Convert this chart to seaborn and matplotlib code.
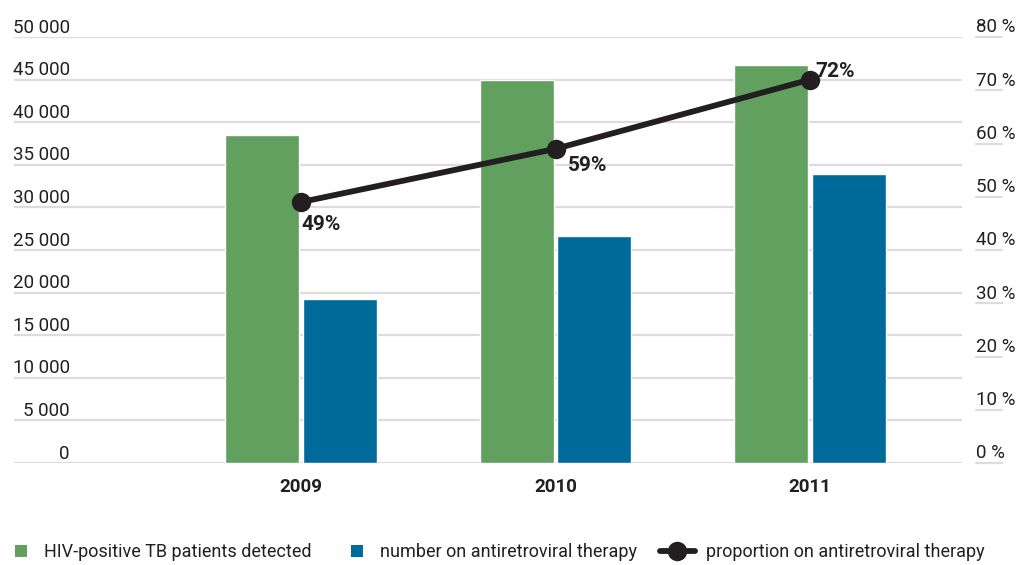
import numpy as np
import pandas as pd
import matplotlib
matplotlib.use("Agg")
import matplotlib.pyplot as plt
import matplotlib.transforms as mtransforms
from matplotlib.patches import Patch, Rectangle
from matplotlib.lines import Line2D
from matplotlib.legend_handler import HandlerPatch
import seaborn as sns

years = ["2009", "2010", "2011"]
detected = [38500, 45000, 46700]
on_art = [19200, 26600, 33900]
proportion = [49, 59, 72]
left_ticks = [0, 5000, 10000, 15000, 20000, 25000, 30000, 35000, 40000, 45000, 50000]
right_ticks = [0, 10, 20, 30, 40, 50, 60, 70, 80]
series_names = ["HIV-positive TB patients detected", "number on antiretroviral therapy"]
line_name = "proportion on antiretroviral therapy"

GREEN = "#62a060"
BLUE = "#006a9a"
DARK = "#231f20"
GRID = "#dcdcdc"
TXT = "#231f20"

sns.set_theme(style="white")
plt.rcParams["font.family"] = ["Roboto", "DejaVu Sans"]

df = pd.DataFrame({
    "year": years * 2,
    "series": [series_names[0]] * 3 + [series_names[1]] * 3,
    "value": detected + on_art,
})

fig = plt.figure(figsize=(10.21, 5.65), dpi=100)
W, H = 1021, 565
ax = fig.add_axes([14 / W, (H - 463) / H, (962 - 14) / W, (463 - 37) / H])

sns.barplot(data=df, x="year", y="value", hue="series", order=years,
            hue_order=series_names, palette=[GREEN, BLUE], width=0.61,
            gap=0.045, saturation=1, legend=False, ax=ax, zorder=2)

ax.set_xlim(-1.128, 2.597)
ax.set_ylim(0, 50000)
ax.set_yticks(left_ticks)
ax.yaxis.grid(True, color=GRID, linewidth=1.6, zorder=0)
ax.set_axisbelow(True)
for s in ax.spines.values():
    s.set_visible(False)
ax.set_xlabel("")
ax.set_ylabel("")
ax.tick_params(axis="both", length=0)
ax.set_yticklabels([])
ax.set_xticks(range(len(years)))
ax.set_xticklabels(years, fontsize=13.5, fontweight="bold", color=TXT)
ax.tick_params(axis="x", pad=11)

# left value labels sit above their gridlines inside the plot area
trl = mtransforms.blended_transform_factory(ax.transAxes, ax.transData)
for v in left_ticks:
    lab = f"{v:,}".replace(",", " ")
    ax.text(0.059, v + 50, lab, transform=trl, ha="right", va="bottom",
            fontsize=13.5, color=TXT)

# right axis for the proportion line
ax2 = ax.twinx()
ax2.set_ylim(0, 80)
xs = np.arange(len(years))
sns.lineplot(x=xs, y=proportion, ax=ax2, color=DARK, linewidth=4.2,
             marker="o", markersize=14, markeredgewidth=0, zorder=5)
ax2.set_yticks(right_ticks)
ax2.set_yticklabels([])
ax2.tick_params(axis="y", length=0)
for s in ax2.spines.values():
    s.set_visible(False)
ax2.set_ylabel("")

tr2 = mtransforms.blended_transform_factory(ax2.transAxes, ax2.transData)
for v in right_ticks:
    ax2.add_line(Line2D([1.0148, 1.0422], [v, v], transform=tr2, color=GRID,
                        linewidth=1.6, clip_on=False))
    ax2.text(1.0148, v + 0.1, f"{v} %", transform=tr2, ha="left", va="bottom",
             fontsize=13.5, color=TXT, clip_on=False)

# value labels on the proportion points
offsets = [(0, -9, "left", "top"), (9, -5, "left", "top"), (4, 6, "left", "center")]
for x, p, (dx, dy, ha, va) in zip(xs, proportion, offsets):
    ax2.annotate(f"{p}%", (x, p), xytext=(dx, dy), textcoords="offset points",
                 ha=ha, va=va, fontsize=15, fontweight="bold", color=TXT, zorder=6)


class SquareHandler(HandlerPatch):
    """Small square placed at the right end of the handle box."""

    def create_artists(self, legend, orig_handle, xdescent, ydescent, width,
                       height, fontsize, trans):
        px = fig.dpi / 72.0
        side = 12 / px
        x0 = -xdescent + width - side - 6 / px
        r = Rectangle((x0, -ydescent + (height - side) / 2), side, side,
                      facecolor=orig_handle.get_facecolor(), edgecolor="none",
                      transform=trans)
        return [r]


handles = [Patch(facecolor=GREEN), Patch(facecolor=BLUE),
           Line2D([0], [0], color=DARK, linewidth=4.2, marker="o",
                  markersize=14, markeredgewidth=0)]
labels = series_names + [line_name]
leg = fig.legend(handles, labels, loc="center left", bbox_to_anchor=(-2 / W, 1 - 552 / H),
                 ncol=3, frameon=False, fontsize=13, handlelength=1.95,
                 handletextpad=0.6, columnspacing=1.25, labelcolor=TXT,
                 borderpad=0, borderaxespad=0,
                 handler_map={Patch: SquareHandler()})

fig.savefig("out.png", dpi=100, facecolor="white")
